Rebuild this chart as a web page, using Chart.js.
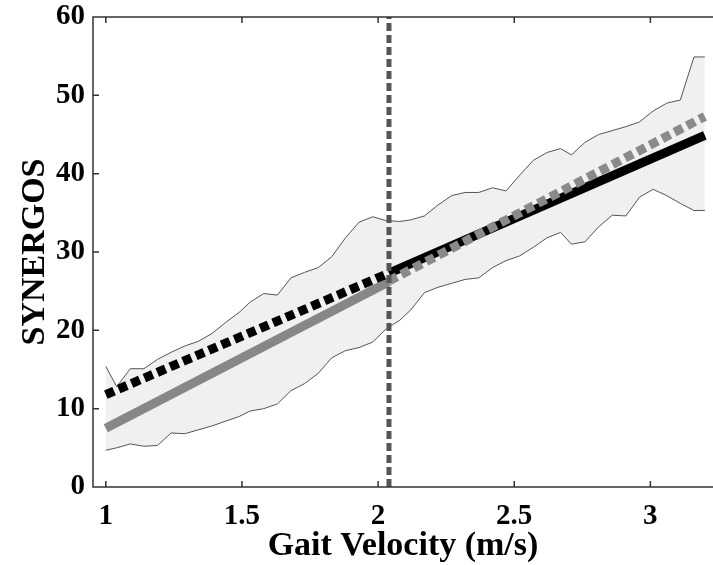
<!DOCTYPE html>
<html>
<head>
<meta charset="utf-8">
<script src="https://cdn.jsdelivr.net/npm/chart.js@4.4.1/dist/chart.umd.min.js"></script>
<style>
    html, body { margin: 0; padding: 0; background: #fff; }
    #wrap { width: 713px; height: 565px; }
</style>
</head>
<body>
<div id="wrap"><canvas id="synergos"></canvas></div>
<script>
// gait velocity grid of the min/max band (m/s)
const velocity = [1.00, 1.04, 1.09, 1.14, 1.19, 1.24, 1.29, 1.34, 1.39, 1.44,
    1.49, 1.53, 1.58, 1.63, 1.68, 1.73, 1.78, 1.83, 1.88, 1.93,
    1.98, 2.03, 2.08, 2.12, 2.17, 2.22, 2.27, 2.32, 2.37, 2.42,
    2.47, 2.52, 2.57, 2.62, 2.67, 2.71, 2.76, 2.81, 2.86, 2.91,
    2.96, 3.01, 3.06, 3.11, 3.16, 3.20];
const bandUpper = [15.4, 12.8, 15.1, 15.1, 16.3, 17.2, 18.0, 18.6, 19.6, 21.0,
    22.3, 23.6, 24.7, 24.5, 26.7, 27.4, 28.0, 29.4, 31.8, 33.8,
    34.5, 34.0, 33.9, 34.1, 34.6, 36.0, 37.2, 37.6, 37.6, 38.2,
    37.8, 39.8, 41.7, 42.7, 43.2, 42.4, 44.0, 45.0, 45.5, 46.0,
    46.6, 48.0, 49.0, 49.4, 54.9, 54.9];
const bandLower = [4.7, 5.0, 5.5, 5.2, 5.3, 6.9, 6.8, 7.3, 7.8, 8.4,
    9.0, 9.7, 10.0, 10.6, 12.3, 13.2, 14.5, 16.5, 17.4, 17.8,
    18.5, 20.2, 21.3, 22.6, 24.8, 25.5, 26.0, 26.5, 26.7, 28.0,
    28.9, 29.5, 30.6, 31.8, 32.5, 31.0, 31.3, 33.2, 34.7, 34.6,
    37.0, 38.0, 37.2, 36.2, 35.3, 35.3];

// regression lines, split at the transition velocity
const splitVelocity = 2.04;
const slowX = [1.00, 2.04];
const slowGreyY = [7.5, 26.2];
const slowBlackY = [11.8, 27.3];
const fastX = [2.04, 3.20];
const fastBlackY = [27.3, 44.9];
const fastGreyY = [26.3, 47.3];

const xTicks = [1, 1.5, 2, 2.5, 3];
const yTicks = [0, 10, 20, 30, 40, 50, 60];

function pts(xs, ys) {
    return xs.map((x, i) => ({ x: x, y: ys[i] }));
}

const font = 'Liberation Serif';

// matlab style box with inward ticks
const boxPlugin = {
    id: 'box',
    afterDatasetsDraw(chart) {
        const ctx = chart.ctx;
        const a = chart.chartArea;
        const xs = chart.scales.x;
        const ys = chart.scales.y;
        ctx.save();
        ctx.strokeStyle = '#333';
        ctx.lineWidth = 1.5;
        ctx.beginPath();
        ctx.moveTo(a.right + 2, a.top);
        ctx.lineTo(a.left, a.top);
        ctx.lineTo(a.left, a.bottom);
        ctx.lineTo(a.right + 2, a.bottom);
        xTicks.forEach(v => {
            const p = xs.getPixelForValue(v);
            ctx.moveTo(p, a.bottom); ctx.lineTo(p, a.bottom - 6);
            ctx.moveTo(p, a.top); ctx.lineTo(p, a.top + 6);
        });
        yTicks.forEach(v => {
            const p = ys.getPixelForValue(v);
            ctx.moveTo(a.left, p); ctx.lineTo(a.left + 6, p);
        });
        ctx.stroke();
        ctx.restore();
    }
};

const data = {
    datasets: [
        {
            data: pts(velocity, bandUpper),
            borderColor: '#555',
            borderWidth: 1,
            backgroundColor: '#f0f0f0',
            fill: '+1',
            order: 10
        },
        {
            data: pts(velocity, bandLower),
            borderColor: '#555',
            borderWidth: 1,
            fill: false,
            order: 9
        },
        {
            data: pts(slowX, slowGreyY),
            borderColor: '#878787',
            borderWidth: 9,
            order: 5
        },
        {
            data: pts(slowX, slowBlackY),
            borderColor: '#000',
            borderWidth: 9,
            borderDash: [9, 5],
            order: 4
        },
        {
            data: pts(fastX, fastBlackY),
            borderColor: '#000',
            borderWidth: 9,
            order: 5
        },
        {
            data: pts(fastX, fastGreyY),
            borderColor: '#8a8a8a',
            borderWidth: 9,
            borderDash: [9, 5],
            order: 4
        },
        {
            data: [{ x: splitVelocity, y: 0 }, { x: splitVelocity, y: 60 }],
            borderColor: '#555',
            borderWidth: 5,
            borderDash: [8, 4],
            order: 1
        }
    ]
};

const config = {
    type: 'line',
    data,
    options: {
        responsive: true,
        maintainAspectRatio: false,
        animation: false,
        layout: { padding: { top: 17, right: 0, left: 0, bottom: 0 } },
        elements: {
            point: { radius: 0 },
            line: { tension: 0, borderCapStyle: 'butt', fill: false }
        },
        plugins: {
            legend: { display: false },
            tooltip: { enabled: false }
        },
        scales: {
            x: {
                type: 'linear',
                min: 0.953,
                max: 3.23,
                afterBuildTicks: s => { s.ticks = xTicks.map(v => ({ value: v })); },
                afterFit: s => { s.height = 78; s.paddingLeft = 0; s.paddingRight = 0; },
                grid: { display: false, drawTicks: false },
                border: { display: false },
                ticks: {
                    padding: 12,
                    color: '#000',
                    callback: v => String(v),
                    font: { family: font, size: 29, weight: 'bold' }
                },
                title: {
                    display: true,
                    text: 'Gait Velocity (m/s)',
                    color: '#000',
                    font: { family: font, size: 34, weight: 'bold', lineHeight: 1.1 },
                    padding: { top: 0, bottom: 0 }
                }
            },
            y: {
                min: 0,
                max: 60,
                afterBuildTicks: s => { s.ticks = yTicks.map(v => ({ value: v })); },
                afterFit: s => { s.width = 93; s.paddingTop = 0; s.paddingBottom = 0; },
                grid: { display: false, drawTicks: false },
                border: { display: false },
                ticks: {
                    padding: 8,
                    color: '#000',
                    callback: v => String(v),
                    font: { family: font, size: 29, weight: 'bold' }
                },
                title: {
                    display: true,
                    text: 'SYNERGOS',
                    color: '#000',
                    font: { family: font, size: 34, weight: 'bold' },
                    padding: { top: 15, bottom: 0 }
                }
            }
        }
    },
    plugins: [boxPlugin]
};

const myChart = new Chart(document.querySelector('#synergos'), config);
</script>
</body>
</html>
